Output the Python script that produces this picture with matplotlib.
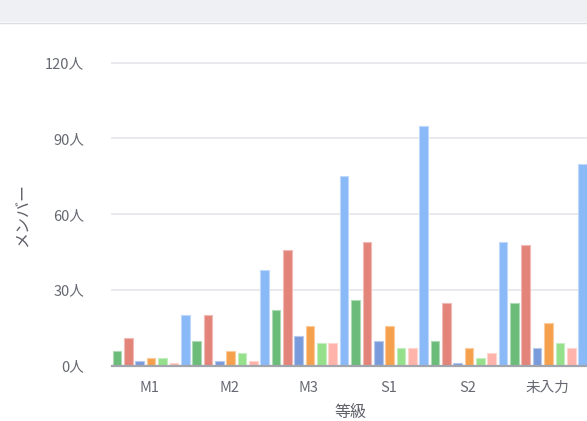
import numpy as np
import matplotlib
matplotlib.use("Agg")
import matplotlib.pyplot as plt
from matplotlib.patches import Rectangle
from matplotlib.lines import Line2D
from matplotlib.colors import to_rgb

plt.rcParams['font.family'] = ['Noto Sans CJK JP', 'DejaVu Sans']

categories = ["M1", "M2", "M3", "S1", "S2", "未入力", ""]
nan = np.nan
s_blue = [nan, 20, 38, 75, 95, 49, 80]
s_green = [6, 10, 22, 26, 10, 25, nan]
s_red = [11, 20, 46, 49, 25, 48, nan]
s_navy = [2, 2, 12, 10, 1, 7, nan]
s_orange = [3, 6, 16, 16, 7, 17, nan]
s_lgreen = [3, 5, 9, 7, 3, 9, nan]
s_pink = [1, 2, 9, 7, 5, 7, nan]
yticks = [0, 30, 60, 90, 120]
ytick_labels = ["0人", "30人", "60人", "90人", "120人"]

series = [s_blue, s_green, s_red, s_navy, s_orange, s_lgreen, s_pink]
colors = ["#89b9f7", "#6bbb79", "#e3847a", "#7a9bdb", "#f5a04d", "#94e08b", "#ffb3aa"]

W, H = 587, 421
fig = plt.figure(figsize=(W / 100, H / 100), dpi=100)
fig.patch.set_facecolor("white")

# header band
fig.patches.append(Rectangle((0, 1 - 22 / H), 1, 22 / H, transform=fig.transFigure,
                             facecolor="#eff0f4", edgecolor="none", zorder=0))
fig.lines.append(Line2D([0, 1], [1 - 22.5 / H, 1 - 22.5 / H], transform=fig.transFigure,
                        color="#dcdde3", linewidth=1))

left_px, right_px = 112, 587
top_px, bot_px = 62.5, 366
ax = fig.add_axes([left_px / W, 1 - bot_px / H, (right_px - left_px) / W, (bot_px - top_px) / H])

x = np.arange(len(categories))
step = 1 / 7
width = 0.109
for k, (vals, c) in enumerate(zip(series, colors)):
    rgb = np.array(to_rgb(c))
    edge = tuple(rgb * 0.55 + 0.45)
    ax.bar(x - 0.556 + k * step, vals, width=width, color=c, edgecolor=edge,
           linewidth=0.8, zorder=3)

ax.set_yticks(yticks)
ax.set_yticklabels(ytick_labels)
ax.set_xticks(x)
ax.set_xticklabels(categories)
ax.set_xlim(-0.477, 5.50)
ax.set_ylim(0, 120)
ax.tick_params(axis='y', length=0, pad=20, labelsize=10.5, labelcolor="#666872")
ax.tick_params(axis='x', length=0, pad=11, labelsize=10.5, labelcolor="#666872")

ax.grid(axis='y', color="#e8e8ed", linewidth=1.3, zorder=0)
ax.set_axisbelow(True)
for gl in ax.get_ygridlines():
    gl.set_clip_on(False)
for s in ["top", "right", "left"]:
    ax.spines[s].set_visible(False)
ax.spines["bottom"].set_color("#a3a5ad")
ax.spines["bottom"].set_linewidth(1.6)
ax.spines["bottom"].set_zorder(4)

fig.text(22 / W, 1 - 215 / H, "メンバー", rotation=90, ha="center", va="center",
         fontsize=11.5, color="#5f6069")
fig.text(350 / W, 1 - 412 / H, "等級", ha="center", va="center",
         fontsize=11.5, color="#5f6069")

fig.savefig("out.png", dpi=100)
